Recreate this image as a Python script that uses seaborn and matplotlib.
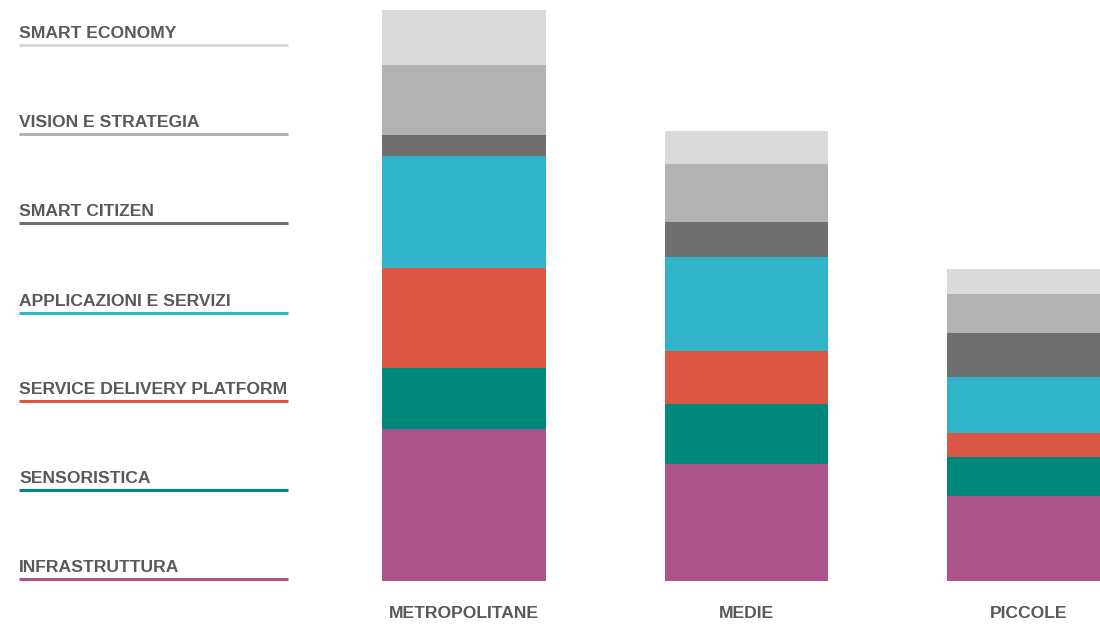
import matplotlib
matplotlib.use("Agg")
import matplotlib.pyplot as plt
from matplotlib.lines import Line2D
import seaborn as sns
import pandas as pd
import numpy as np

categories = ["METROPOLITANE", "MEDIE", "PICCOLE"]
series_names = ["INFRASTRUTTURA", "SENSORISTICA", "SERVICE DELIVERY PLATFORM",
                "APPLICAZIONI E SERVIZI", "SMART CITIZEN", "VISION E STRATEGIA",
                "SMART ECONOMY"]
infrastruttura = [152, 117, 85]
sensoristica = [61, 60, 39]
service_delivery = [100, 53, 24]
applicazioni = [112, 94, 56]
smart_citizen = [21, 35, 44]
vision = [70, 58, 39]
smart_economy = [55, 33, 25]
colors = ["#ab5489", "#00897a", "#db5745", "#31b3c9", "#6f6f6f", "#b2b2b2", "#dadada"]

series = [infrastruttura, sensoristica, service_delivery, applicazioni,
          smart_citizen, vision, smart_economy]

sns.set_theme(style="white")
plt.rcParams['font.family'] = ['Liberation Sans', 'DejaVu Sans']

W, H = 1100, 626
fig = plt.figure(figsize=(W / 100, H / 100), dpi=100)

# axes for bars
px_per_unit = 282.5
c0 = 464.0
ax_left, ax_right = 300.0, 1100.0
base = 45.0  # baseline from bottom in px
ax = fig.add_axes([ax_left / W, base / H, (ax_right - ax_left) / W, (H - base) / H])

cum = np.cumsum(np.array(series), axis=0)
for i in range(len(series) - 1, -1, -1):
    df = pd.DataFrame({"cat": categories, "val": cum[i]})
    sns.barplot(data=df, x="cat", y="val", color=colors[i], width=0.58,
                saturation=1, ax=ax, linewidth=0, edgecolor="none")

ax.set_xlim(-(c0 - ax_left) / px_per_unit, (ax_right - ax_left) / px_per_unit - (c0 - ax_left) / px_per_unit)
ax.set_ylim(0, H - base)
ax.axis("off")

text_color = "#595959"
fs = 12.6
for i, cat in enumerate(categories):
    ax.text(i, -33, cat, ha="center", va="center", fontsize=fs,
            fontweight="bold", color=text_color, clip_on=False)

# legend on the left
line_y = [579, 490, 401, 313, 223, 134, 45]  # from top, in px
for name, col, ly in zip(series_names, colors, line_y):
    yf = 1 - ly / H
    fig.add_artist(Line2D([19 / W, 288 / W], [yf, yf], color=col, lw=2.2,
                          solid_capstyle="butt"))
    fig.text(19 / W, 1 - (ly - 11.5) / H, name, ha="left", va="center",
             fontsize=fs, fontweight="bold", color=text_color)

fig.savefig("out.png", dpi=100, facecolor="white")
